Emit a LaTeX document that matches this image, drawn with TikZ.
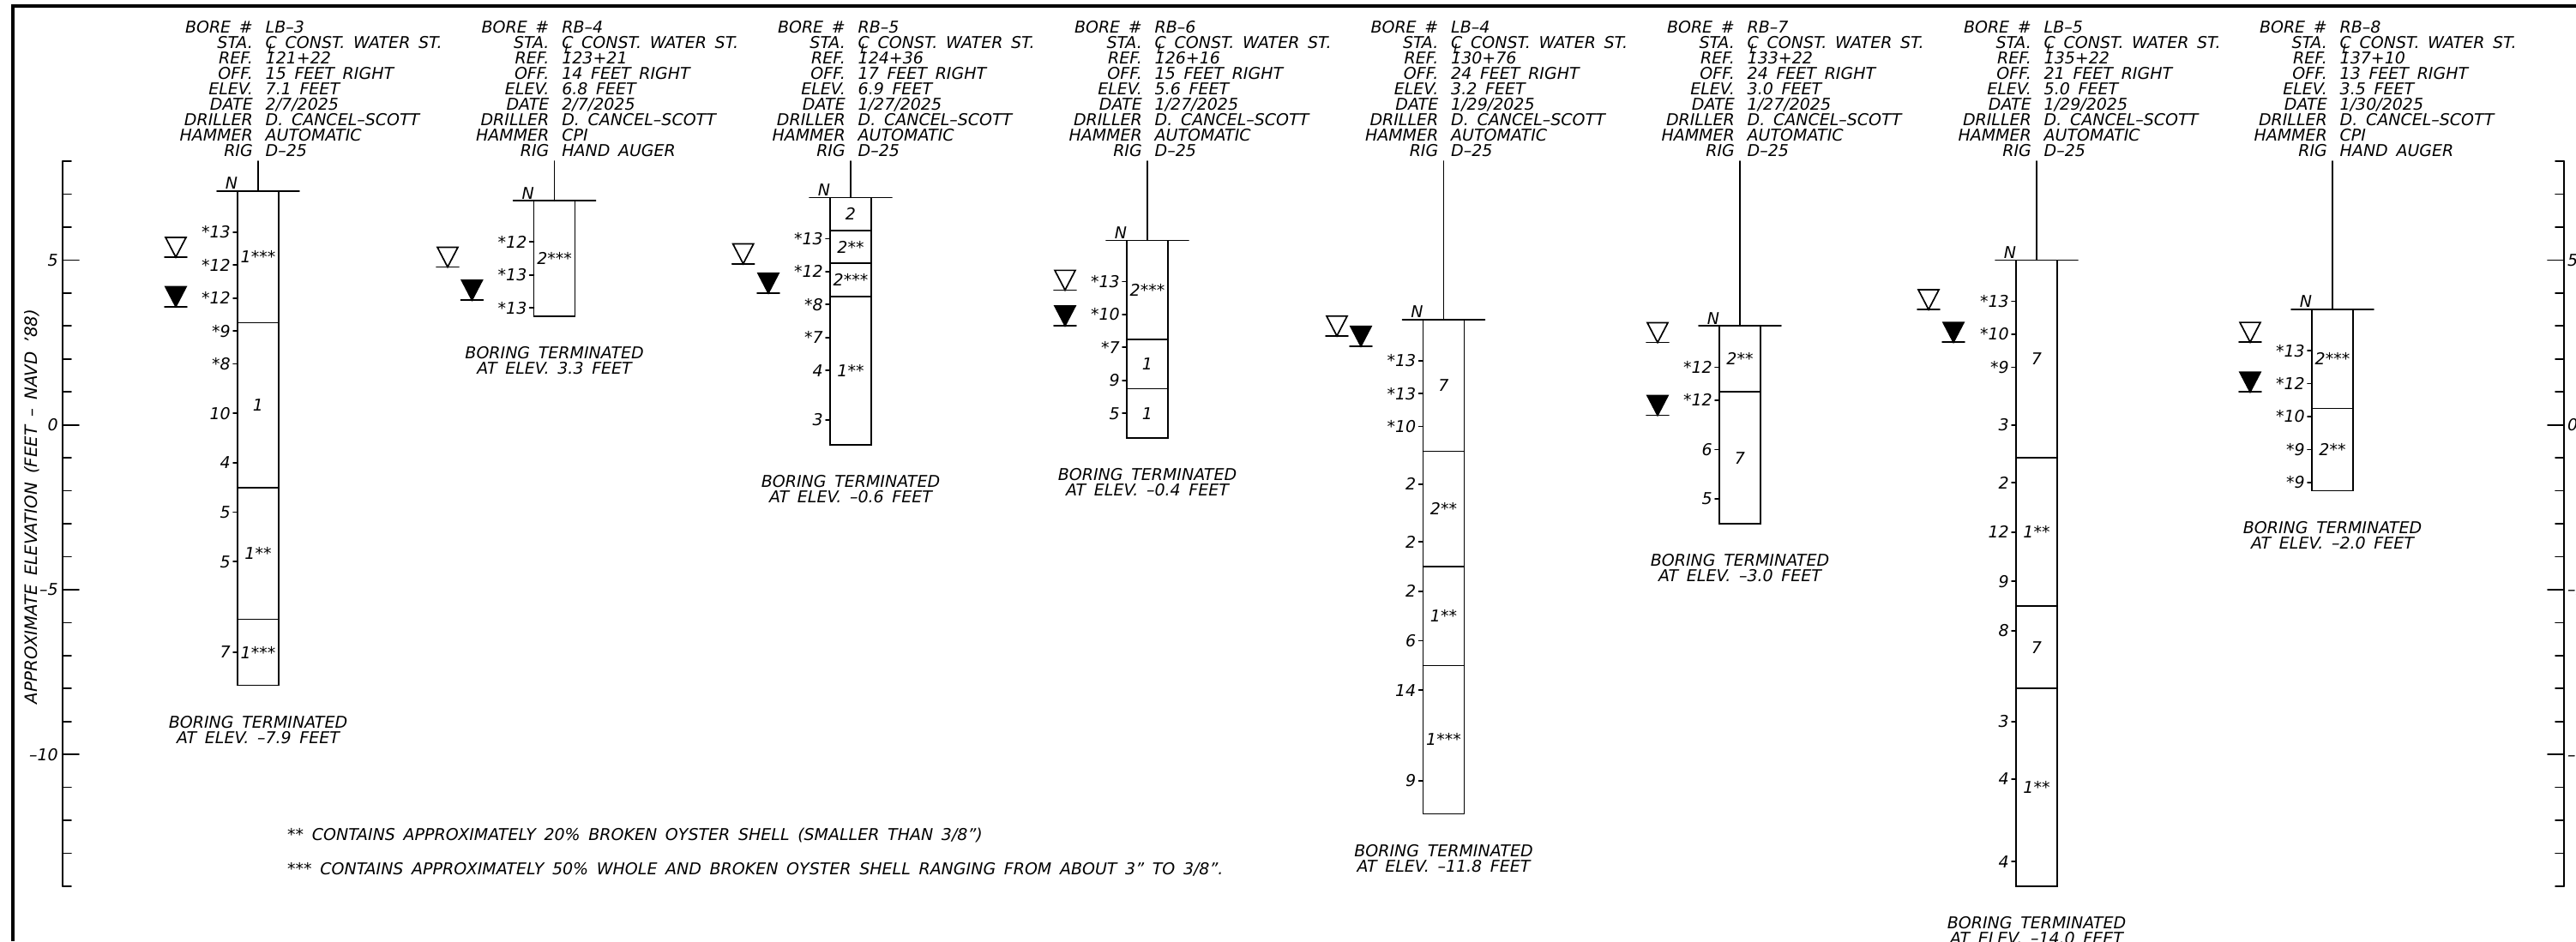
\documentclass[tikz,border=0pt]{standalone}
\usepackage{fontspec}
\setmainfont{DejaVu Sans}[WordSpace=1.6]
\usepackage{tikz}
\usetikzlibrary{positioning}

\newcommand{\centerl}{\rlap{\hspace{3pt}\smash{\raisebox{-6pt}{\fontsize{15}{15}\selectfont L}}}C}
\newcommand{\inchmark}{\char"22\relax}

\newcommand{\boring}[6]{%
    \coordinate (#1 stem) at (#2,8);
    \coordinate (#1 top) at (#2,#3);
    \coordinate (#1 bot) at (#2,#4);
    \node[logtext, align=right, anchor=north east] (#1 keys) at (#2-6,12.255)
        {BORE \#\\STA.\\REF.\\OFF.\\ELEV.\\DATE\\DRILLER\\HAMMER\\RIG};
    \node[logtext, align=left, anchor=north west] (#1 vals) at (#2+8.5,12.255) {#6};
    \draw[logline] (#1 stem) -- (#1 top);
    \draw[logline] (#2-48,#3) -- (#2+48,#3);
    \draw[logline] (#2-24,#3) rectangle (#2+24,#4);
    \node[logtext, anchor=south, yshift=2pt] (#1 n) at (#2-31,#3) {N};
    \node[logtext, align=center, below=35.5pt of #1 bot] (#1 end) {BORING TERMINATED\\AT ELEV. #5 FEET};
}
\newcommand{\blows}[3]{%
    \foreach \elev/\val [count=\i] in {#3} {
        \draw[logline] (#2-29,\elev) -- (#2-24,\elev);
        \node[logtext, anchor=east] (#1 blow\i) at (#2-32,\elev) {\val};
    }
}
\newcommand{\soil}[3]{%
    \foreach \elev/\val [count=\i] in {#3}
        \node[logtext] (#1 soil\i) at (#2,\elev) {\val};
}
\newcommand{\strata}[2]{%
    \foreach \elev in {#2}
        \draw[logline] (#1-24,\elev) -- (#1+24,\elev);
}
\newcommand{\water}[3]{%
    \draw[logline] (#1-13,#2) -- (#1+13,#2);
    \draw[logline, #3] (#1,#2) -- (#1-12,#2+.6) -- (#1+12,#2+.6) -- cycle;
}
\newcommand{\elevscale}[2]{%
    \draw[logline] (#1,8) -- (#1,-14);
    \foreach \tick in {-14,...,8}
        \draw[logline] (#1,\tick) -- ++(#2*10,0);
    \foreach \tick in {-10,-5,0,5}
        \draw[logline] (#1,\tick) -- ++(#2*19,0);
}

\begin{document}
\begin{tikzpicture}[
    x=1pt, y=38.45pt,
    logtext/.style={inner sep=0pt, font=\fontsize{19}{18}\selectfont\itshape},
    logline/.style={line width=1.7pt, line cap=round, black},
    frameline/.style={line width=3.5pt, black}
]
\useasboundingbox (0,12.892) rectangle (3004,-15.665);

% frame and scales
\coordinate (frame a) at (15,-15.665);
\coordinate (frame b) at (15,12.705);
\coordinate (frame c) at (3004,12.705);
\draw[frameline] (frame a) -- (frame b) -- (frame c);
\elevscale{73}{1}
\elevscale{2990}{-1}
\foreach \tick/\val [count=\i] in {5/5,0/0,-5/--5,-10/--10} {
    \node[logtext, anchor=east] (left\i) at (68,\tick) {\val};
    \node[logtext, anchor=west] (right\i) at (2994,\tick) {\val};
}
\node[logtext, rotate=90, font=\fontsize{19.8}{18}\selectfont\itshape] (axis) at (37.5,-2.48) {APPROXIMATE ELEVATION (FEET -- NAVD \char"27\relax 88)};

% LB-3
\boring{lb3}{301}{7.1}{-7.9}{--7.9}{LB--3\\\centerl{} CONST. WATER ST.\\121+22\\15 FEET RIGHT\\7.1 FEET\\2/7/2025\\D. CANCEL--SCOTT\\AUTOMATIC\\D--25}
\strata{301}{3.1,-1.9,-5.9}
\blows{lb3}{301}{5.85/*13,4.85/*12,3.85/*12,2.85/*9,1.85/*8,.35/10,-1.15/4,-2.65/5,-4.15/5,-6.9/7}
\soil{lb3}{301}{5.1/1***,.6/1,-3.9/1**,-6.9/1***}
\water{205}{5.09}{}
\water{205}{3.59}{fill=black}

% RB-4
\boring{rb4}{646.6}{6.8}{3.3}{3.3}{RB--4\\\centerl{} CONST. WATER ST.\\123+21\\14 FEET RIGHT\\6.8 FEET\\2/7/2025\\D. CANCEL--SCOTT\\CPI\\HAND AUGER}
\blows{rb4}{646.6}{5.55/*12,4.55/*13,3.55/*13}
\soil{rb4}{646.6}{5.05/2***}
\water{522}{4.79}{}
\water{550.4}{3.79}{fill=black}

% RB-5
\boring{rb5}{992}{6.9}{-.6}{--0.6}{RB--5\\\centerl{} CONST. WATER ST.\\124+36\\17 FEET RIGHT\\6.9 FEET\\1/27/2025\\D. CANCEL--SCOTT\\AUTOMATIC\\D--25}
\strata{992}{5.9,4.9,3.9}
\blows{rb5}{992}{5.65/*13,4.65/*12,3.65/*8,2.65/*7,1.65/4,.15/3}
\soil{rb5}{992}{6.4/2,5.4/2**,4.4/2***,1.65/1**}
\water{866.7}{4.89}{}
\water{896}{4.0}{fill=black}

% RB-6
\boring{rb6}{1338}{5.6}{-.4}{--0.4}{RB--6\\\centerl{} CONST. WATER ST.\\126+16\\15 FEET RIGHT\\5.6 FEET\\1/27/2025\\D. CANCEL--SCOTT\\AUTOMATIC\\D--25}
\strata{1338}{2.6,1.1}
\blows{rb6}{1338}{4.35/*13,3.35/*10,2.35/*7,1.35/9,.35/5}
\soil{rb6}{1338}{4.1/2***,1.85/1,.35/1}
\water{1242}{4.09}{}
\water{1242}{3.01}{fill=black}

% LB-4
\boring{lb4}{1683.5}{3.2}{-11.8}{--11.8}{LB--4\\\centerl{} CONST. WATER ST.\\130+76\\24 FEET RIGHT\\3.2 FEET\\1/29/2025\\D. CANCEL--SCOTT\\AUTOMATIC\\D--25}
\strata{1683.5}{-.8,-4.3,-7.3}
\blows{lb4}{1683.5}{1.95/*13,.95/*13,-.05/*10,-1.8/2,-3.55/2,-5.05/2,-6.55/6,-8.05/14,-10.8/9}
\soil{lb4}{1683.5}{1.2/7,-2.55/2**,-5.8/1**,-9.55/1***}
\water{1559}{2.7}{}
\water{1587}{2.39}{fill=black}

% RB-7
\boring{rb7}{2029}{3.0}{-3.0}{--3.0}{RB--7\\\centerl{} CONST. WATER ST.\\133+22\\24 FEET RIGHT\\3.0 FEET\\1/27/2025\\D. CANCEL--SCOTT\\AUTOMATIC\\D--25}
\strata{2029}{1.0}
\blows{rb7}{2029}{1.75/*12,.75/*12,-.75/6,-2.25/5}
\soil{rb7}{2029}{2.0/2**,-1.0/7}
\water{1933}{2.5}{}
\water{1933}{.29}{fill=black}

% LB-5
\boring{lb5}{2375}{5.0}{-14.0}{--14.0}{LB--5\\\centerl{} CONST. WATER ST.\\135+22\\21 FEET RIGHT\\5.0 FEET\\1/29/2025\\D. CANCEL--SCOTT\\AUTOMATIC\\D--25}
\strata{2375}{-1,-5.5,-8}
\blows{lb5}{2375}{3.75/*13,2.75/*10,1.75/*9,0/3,-1.75/2,-3.25/12,-4.75/9,-6.25/8,-9/3,-10.75/4,-13.25/4}
\soil{lb5}{2375}{2/7,-3.25/1**,-6.75/7,-11/1**}
\water{2249}{3.5}{}
\water{2278}{2.51}{fill=black}

% RB-8
\boring{rb8}{2720}{3.5}{-2.0}{--2.0}{RB--8\\\centerl{} CONST. WATER ST.\\137+10\\13 FEET RIGHT\\3.5 FEET\\1/30/2025\\D. CANCEL--SCOTT\\CPI\\HAND AUGER}
\strata{2720}{.5}
\blows{rb8}{2720}{2.25/*13,1.25/*12,.25/*10,-.75/*9,-1.75/*9}
\soil{rb8}{2720}{2/2***,-.75/2**}
\water{2624}{2.51}{}
\water{2624}{1.0}{fill=black}

% notes
\node[logtext, anchor=west] (note a) at (335,-12.46) {** CONTAINS APPROXIMATELY 20\% BROKEN OYSTER SHELL (SMALLER THAN 3/8\inchmark)};
\node[logtext, anchor=west] (note b) at (335,-13.48) {*** CONTAINS APPROXIMATELY 50\% WHOLE AND BROKEN OYSTER SHELL RANGING FROM ABOUT 3\inchmark{} TO 3/8\inchmark.};

\end{tikzpicture}
\end{document}
